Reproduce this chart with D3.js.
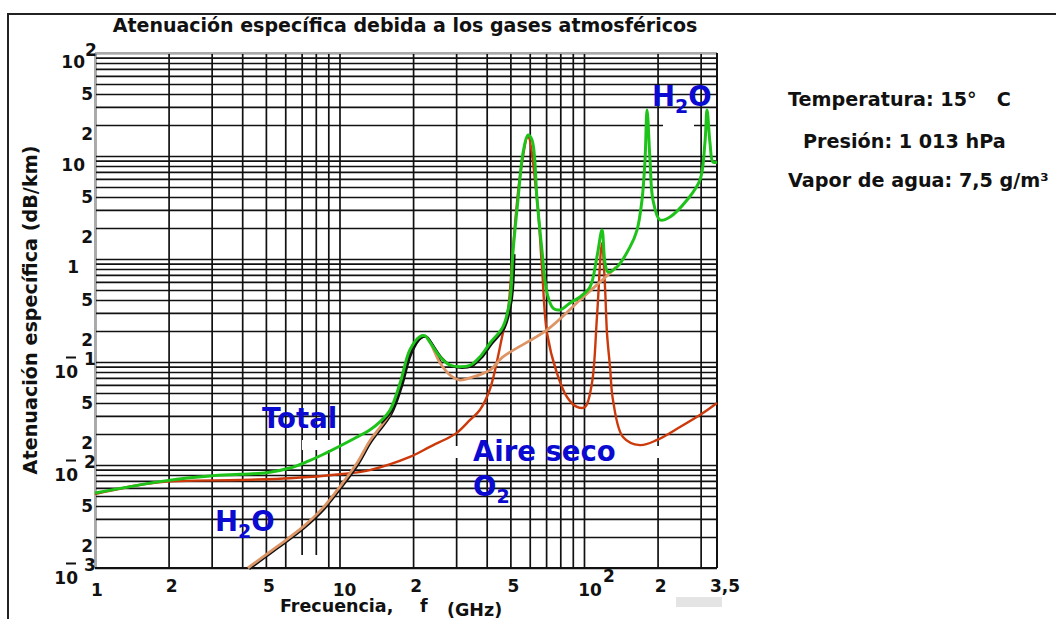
<!DOCTYPE html>
<html>
<head>
<meta charset="utf-8">
<script src="https://cdn.jsdelivr.net/npm/d3@7"></script>
<style>
  body { margin: 0; background: #fff; }
  text { font-family: "DejaVu Sans", Verdana, sans-serif; font-weight: bold; }
</style>
</head>
<body>
<svg id="chart" width="1056" height="619"></svg>
<script>
// Specific attenuation (dB/km) versus frequency (GHz)

// Total attenuation
const totalFreq = [1, 1.97, 2.95, 3.92, 5.05, 6.27, 7.36, 8.56, 10.05, 11.8, 13.3, 14.6, 16.1, 17.7, 19.4, 21.3, 22.4, 23.4, 25.8, 28.3, 31.1, 34.2, 37.5, 41.3, 46.6, 49.8, 51.2, 53.7, 56.3, 59.0, 61.3, 64.3, 67.3, 70.6, 74.7, 79.8, 87.7, 96.3, 105.8, 113, 118.5, 121.9, 125.4, 136.4, 154.3, 164.8, 172.7, 177.7, 181.1, 186.2, 191.5, 204.6, 224.8, 263.9, 298.1, 312.4, 318.6, 327.6, 337, 350];
const totalAtt  = [0.00535, 0.00705, 0.00782, 0.00812, 0.00842, 0.00935, 0.01076, 0.01265, 0.0153, 0.0187, 0.0219, 0.0261, 0.0342, 0.0625, 0.131, 0.176, 0.179, 0.157, 0.112, 0.0935, 0.090, 0.093, 0.112, 0.153, 0.219, 0.40, 1.14, 3.74, 10.7, 16.0, 14.3, 3.74, 1.22, 0.468, 0.334, 0.32, 0.374, 0.428, 0.535, 1.05, 1.91, 0.915, 0.748, 0.836, 1.31, 1.91, 3.74, 9.15, 28, 9.15, 3.74, 2.39, 2.56, 3.74, 5.85, 13.4, 28, 13.4, 8.74, 8.74];

// Dry air (O2)
const o2Freq = [1, 1.79, 3.92, 6.27, 10.05, 13.3, 19.4, 23.4, 28.3, 30.2, 34.2, 37.5, 41.3, 46.6, 48.9, 51.2, 54.7, 59.0, 64.3, 67.3, 70.6, 77.5, 85.2, 93.6, 101, 107.8, 113, 118.5, 121.9, 124.2, 127.8, 131.4, 144.4, 169.4, 198.9, 247, 306.7, 350];
const o2Att  = [0.00522, 0.00676, 0.00715, 0.00743, 0.00812, 0.00893, 0.01197, 0.0150, 0.0187, 0.0205, 0.0274, 0.0342, 0.055, 0.191, 0.32, 1.22, 6.25, 15.3, 3.74, 0.836, 0.191, 0.078, 0.0457, 0.0366, 0.0366, 0.0625, 0.273, 1.43, 0.535, 0.191, 0.0894, 0.0428, 0.0187, 0.0156, 0.0175, 0.0234, 0.032, 0.04];

// Water vapour (H2O)
const h2oFreq = [4.22, 5.55, 7.11, 8.56, 10.3, 11.8, 13.3, 16.1, 17.7, 19.4, 21.3, 22.4, 23.4, 25.8, 28.3, 31.1, 34.2, 41.3, 46.6, 70.6, 96.3, 127.8, 135.2];
const h2oAtt  = [0.001, 0.00161, 0.00252, 0.00383, 0.00668, 0.01045, 0.0171, 0.032, 0.0575, 0.122, 0.175, 0.179, 0.157, 0.0977, 0.0748, 0.0668, 0.070, 0.0836, 0.112, 0.205, 0.40, 0.731, 0.836];

// Tick labels
const xTickValues = [1, 2, 5, 10, 20, 50, 100, 200, 350];
const xTickText   = ["1", "2", "5", "10", "2", "5", "10", "2", "3,5"];
const xTickSup    = ["", "", "", "", "", "", "2", "", ""];

const yTickValues = [1e-3, 2e-3, 5e-3, 1e-2, 2e-2, 5e-2, 1e-1, 0.2, 0.5, 1, 2, 5, 10, 20, 50, 100];
const yTickText   = ["10", "2", "5", "10", "2", "5", "10", "2", "5", "1", "2", "5", "10", "2", "5", "10"];
const yTickSup    = ["-3", "", "", "-2", "", "", "-1", "", "", "", "", "", "", "", "", "2"];

const conditions = ["Temperatura: 15°   C", "Presión: 1 013 hPa", "Vapor de agua: 7,5 g/m³"];

const svg = d3.select("#chart");
svg.append("rect").attr("width", 1056).attr("height", 619).attr("fill", "#fff");

const x = d3.scaleLog().domain([1, 350]).range([95, 717]);
const y = d3.scaleLog().domain([1e-3, 1e2]).range([568, 53]);
const [x0, x1] = x.range();
const [y0, y1] = y.range();

// outer frame
svg.append("path").attr("d", "M8,619V14H1056")
  .attr("fill", "none").attr("stroke", "#222").attr("stroke-width", 2);

// title
svg.append("text").attr("x", 405).attr("y", 32).attr("text-anchor", "middle")
  .attr("font-size", 19).attr("fill", "#111")
  .text("Atenuación específica debida a los gases atmosféricos");

// grid: vertical lines
const gx = svg.append("g").attr("transform", `translate(0,${y0})`)
  .call(d3.axisBottom(x).tickValues(x.ticks()).tickSizeInner(-(y0 - y1)).tickSizeOuter(0).tickFormat(""));
gx.select(".domain").remove();
gx.selectAll("line").attr("stroke", "#111").attr("stroke-width", 1.7);

// grid: horizontal lines
const gy = svg.append("g").attr("transform", `translate(${x0},0)`)
  .call(d3.axisLeft(y).tickValues(y.ticks()).tickSizeInner(-(x1 - x0)).tickSizeOuter(0).tickFormat(""));
gy.select(".domain").remove();
gy.selectAll("line").attr("stroke", "#111").attr("stroke-width", 1.7);

// plot border
svg.append("line").attr("x1", x0).attr("x2", x0).attr("y1", y1).attr("y2", y0)
  .attr("stroke", "#aaa").attr("stroke-width", 2);
svg.append("line").attr("x1", x0).attr("x2", x1).attr("y1", y1).attr("y2", y1)
  .attr("stroke", "#aaa").attr("stroke-width", 2);
svg.append("line").attr("x1", x1).attr("x2", x1).attr("y1", y1).attr("y2", y0)
  .attr("stroke", "#111").attr("stroke-width", 2);
svg.append("line").attr("x1", x0).attr("x2", x1).attr("y1", y0).attr("y2", y0)
  .attr("stroke", "#111").attr("stroke-width", 2);

// white halos left behind series labels
const halos = [[302, 440, 31, 10], [300, 555, 20, 12], [453, 446, 6, 12], [655, 446, 6, 12], [663, 124, 31, 5]];
svg.selectAll("rect.halo").data(halos).join("rect").attr("class", "halo")
  .attr("x", d => d[0]).attr("y", d => d[1]).attr("width", d => d[2]).attr("height", d => d[3])
  .attr("fill", "#fff");

// curves
const line = d3.line().x(d => x(d[0])).y(d => y(d[1])).curve(d3.curveCatmullRom.alpha(0.5));
const zip = (a, b) => a.map((v, i) => [v, b[i]]);
const total = zip(totalFreq, totalAtt);
const o2 = zip(o2Freq, o2Att);
const h2o = zip(h2oFreq, h2oAtt);

svg.append("path").attr("d", line(o2)).attr("fill", "none")
  .attr("stroke", "#cc3a0c").attr("stroke-width", 2.4);

svg.append("path").attr("d", line(h2o.filter(d => d[0] < 26))).attr("fill", "none")
  .attr("stroke", "#111").attr("stroke-width", 2.2).attr("transform", "translate(1.4,1)");
svg.append("path").attr("d", line(h2o)).attr("fill", "none")
  .attr("stroke", "#de9566").attr("stroke-width", 2.8);

svg.append("path").attr("d", line(total.filter(d => d[0] > 14 && d[0] < 52))).attr("fill", "none")
  .attr("stroke", "#111").attr("stroke-width", 2.4).attr("transform", "translate(1.5,1)");
svg.append("path").attr("d", line(total)).attr("fill", "none")
  .attr("stroke", "#1ec31a").attr("stroke-width", 3);

// x tick labels
const xl = svg.append("g").attr("font-size", 17).attr("fill", "#111").attr("text-anchor", "middle");
xTickValues.forEach((v, i) => {
  const t = xTickText[i];
  const long = t.length > 1 && t !== "3,5";
  const cx = x(v) + (v === 1 ? 2 : v >= 350 ? 8 : long ? (xTickSup[i] ? 6 : 5) : 3);
  const by = (v === 1 || long) ? 596 : 592;
  xl.append("text").attr("x", cx).attr("y", by).text(t);
  if (xTickSup[i]) xl.append("text").attr("x", cx + 19).attr("y", by - 14).text(xTickSup[i]);
});

// y tick labels
const yl = svg.append("g").attr("font-size", 17).attr("fill", "#111");
yTickValues.forEach((v, i) => {
  const t = yTickText[i], s = yTickSup[i];
  const ly = y(v);
  if (s.startsWith("-")) {
    yl.append("text").attr("x", 78).attr("y", ly + 15.5).attr("text-anchor", "end").text(t);
    yl.append("line").attr("x1", 66).attr("x2", 76).attr("y1", ly - 4.5).attr("y2", ly - 4.5)
      .attr("stroke", "#111").attr("stroke-width", 2);
    yl.append("text").attr("x", 84).attr("y", ly + 2.5).text(s.slice(1));
  } else if (t === "10") {
    yl.append("text").attr("x", 85).attr("y", ly + 15).attr("text-anchor", "end").text(t);
    if (s) yl.append("text").attr("x", 85).attr("y", ly + 3).text(s);
  } else if (t === "1") {
    yl.append("text").attr("x", 79).attr("y", ly + 14).attr("text-anchor", "end").text(t);
  } else {
    yl.append("text").attr("x", 93).attr("y", ly + 15.5).attr("text-anchor", "end").text(t);
  }
});

// axis titles
svg.append("text").attr("transform", "translate(37,310) rotate(-90)").attr("text-anchor", "middle")
  .attr("font-size", 19.2).attr("fill", "#111").text("Atenuación específica (dB/km)");
const xt = svg.append("text").attr("font-size", 17.5).attr("fill", "#111");
xt.append("tspan").attr("x", 280).attr("y", 612).text("Frecuencia,");
xt.append("tspan").attr("x", 420).attr("y", 612).text("f");
xt.append("tspan").attr("x", 447).attr("y", 616).text("(GHz)");

// series labels
const blue = "#0a0ad0";
function chem(xp, yp, parts) {
  const t = svg.append("text").attr("x", xp).attr("y", yp).attr("font-size", 27.5).attr("fill", blue);
  parts.forEach(([txt, sub]) => {
    if (sub) t.append("tspan").attr("font-size", 19).attr("dy", 7).text(txt);
    else t.append("tspan").attr("dy", t.selectAll("tspan").size() ? -7 : 0).text(txt);
  });
}
chem(262, 435, [["Total"]]);
chem(215, 538, [["H"], ["2", true], ["O"]]);
chem(652, 113, [["H"], ["2", true], ["O"]]);
chem(473, 468, [["Aire seco"]]);
chem(473, 503, [["O"], ["2", true]]);

// measurement conditions
const cx = [788, 803, 788], cy = [106, 148, 187];
conditions.forEach((c, i) => {
  svg.append("text").attr("x", cx[i]).attr("y", cy[i]).attr("font-size", 19.2)
    .attr("fill", "#111").style("white-space", "pre").text(c);
});

// grey tab below the axis
svg.append("rect").attr("x", 676).attr("y", 597).attr("width", 46).attr("height", 10).attr("fill", "#e4e4e4");
</script>
</body>
</html>
